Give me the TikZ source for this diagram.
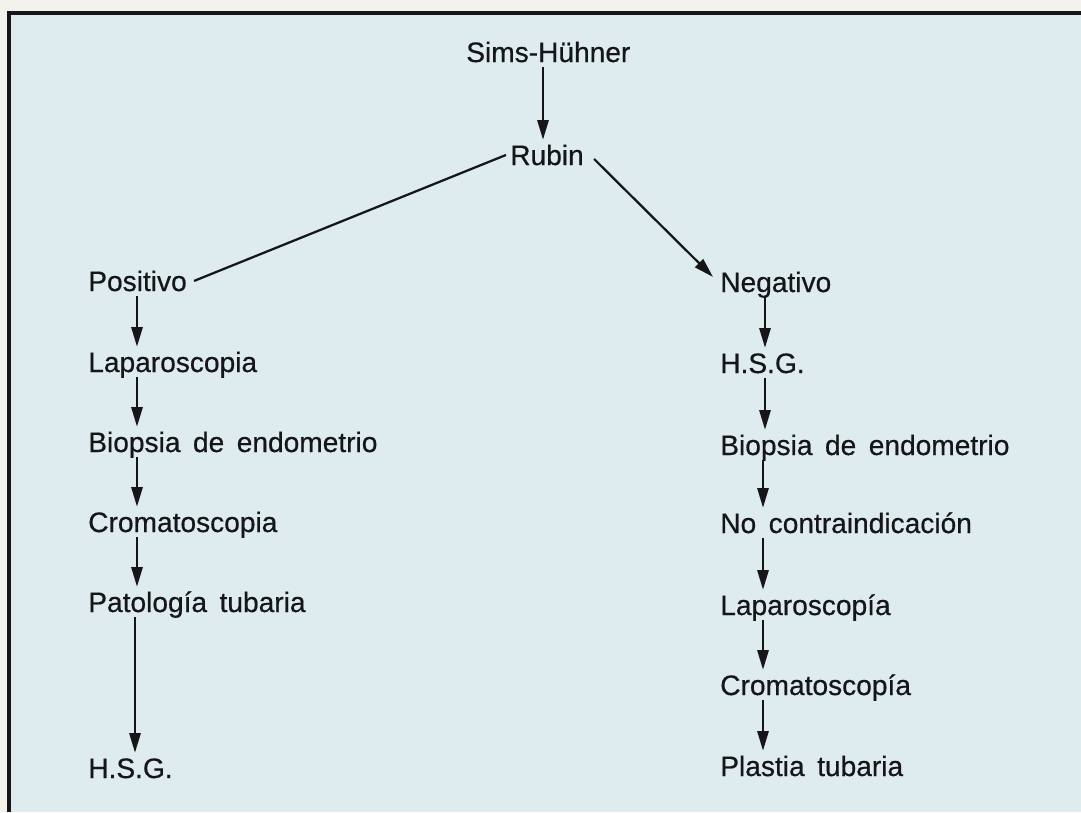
\documentclass[tikz,border=0pt]{standalone}
\usepackage{fontspec}
\setmainfont[WordSpace=1.6,FakeBold=0.5]{Liberation Sans}
\usepackage{tikz}
\usetikzlibrary{arrows.meta}
\definecolor{PlateBlue}{RGB}{222,236,239}
\definecolor{PaperCream}{RGB}{244,242,236}
\definecolor{InkBlack}{RGB}{22,22,25}
\newcommand{\bajar}[3]{%
  \draw[flecha] ([shift={(#3,0)}]#1.south west)--([shift={(#3,0)}]#2.north west);}

\begin{document}
\begin{tikzpicture}[x=0.025cm,y=-0.025cm,
  etapa/.style={anchor=base west,inner xsep=0pt,inner ysep=3.5pt,text height=14.3pt,
    text depth=0pt,font=\fontsize{20}{24}\selectfont,text=InkBlack},
  flecha/.style={-{Triangle[length=14pt,width=8pt]},line width=1.6pt,draw=InkBlack},
  enlace/.style={line width=1.6pt,draw=InkBlack}]
  \useasboundingbox (0,0) rectangle (1081,812);
  \fill[PaperCream] (0,0) rectangle (1081,812);
  \fill[PlateBlue] (9,13) rectangle (1081,812);
  \draw[line width=2.2pt,InkBlack] (9,812)--(9,13)--(1081,13);
  % tronco
  \node[etapa] (sims) at (466,62) {Sims-Hühner};
  \node[etapa] (rubin) at (510,165) {Rubin};
  % rama izquierda
  \node[etapa] (pos) at (88,291) {Positivo};
  \node[etapa] (lapI) at (88,372) {Laparoscopia};
  \node[etapa] (bioI) at (88,452) {Biopsia de endometrio};
  \node[etapa] (cromI) at (88,532) {Cromatoscopia};
  \node[etapa] (pat) at (88,612) {Patología tubaria};
  \node[etapa] (hsgI) at (88,778) {H.S.G.};
  % rama derecha
  \node[etapa] (neg) at (720,292) {Negativo};
  \node[etapa] (hsgD) at (720,373) {H.S.G.};
  \node[etapa] (bioD) at (720,455) {Biopsia de endometrio};
  \node[etapa] (noc) at (720,533) {No contraindicación};
  \node[etapa] (lapD) at (720,615) {Laparoscopía};
  \node[etapa] (cromD) at (720,695) {Cromatoscopía};
  \node[etapa] (plas) at (720,776) {Plastia tubaria};
  \draw[flecha] ([shift={(77,0)}]sims.south west)--([shift={(33,0)}]rubin.north west);
  \draw[enlace] ([shift={(-4,0)}]rubin.west)--([shift={(7,0)}]pos.east);
  \draw[flecha] ([shift={(10,4)}]rubin.east)--([shift={(-7,-5)}]neg.west);
  \bajar{pos}{lapI}{49}
  \bajar{lapI}{bioI}{49}
  \bajar{bioI}{cromI}{49}
  \bajar{cromI}{pat}{49}
  \bajar{pat}{hsgI}{47}
  \bajar{neg}{hsgD}{45}
  \bajar{hsgD}{bioD}{45}
  \bajar{bioD}{noc}{43}
  \bajar{noc}{lapD}{43}
  \bajar{lapD}{cromD}{43}
  \bajar{cromD}{plas}{43}
\end{tikzpicture}
\end{document}
